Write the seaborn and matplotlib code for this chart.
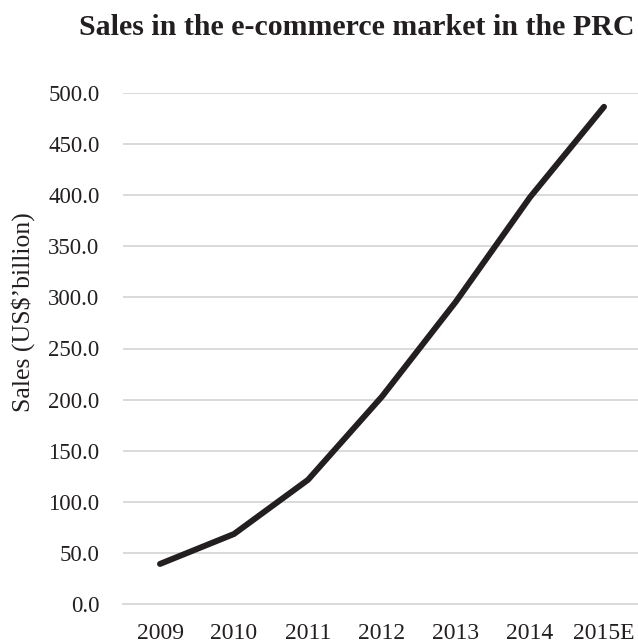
import pandas as pd
import numpy as np
import matplotlib
matplotlib.use("Agg")
import matplotlib.pyplot as plt
import seaborn as sns

# data
years = ["2009", "2010", "2011", "2012", "2013", "2014", "2015E"]
sales = [39.2, 68.5, 121.5, 203.0, 296.0, 398.0, 486.5]
yticks = [0, 50, 100, 150, 200, 250, 300, 350, 400, 450, 500]

df = pd.DataFrame({"year": years, "sales": sales})

sns.set_style("white")
plt.rcParams["font.family"] = ["Liberation Serif", "DejaVu Serif"]

fig = plt.figure(figsize=(6.38, 6.43), dpi=100)
ax = fig.add_axes([123 / 638, 39 / 643, 518 / 638, 511 / 643])

x = np.arange(len(years))
sns.lineplot(x=x, y=df["sales"], ax=ax, color="#231f20", linewidth=4.3,
             solid_capstyle="round", solid_joinstyle="miter")

ax.set_xlim(-0.5, len(years) - 0.5)
ax.set_ylim(0, 500)
ax.set_yticks(yticks)
ax.set_yticklabels([f"{v:.1f}" for v in yticks])
ax.set_xticks(x)
ax.set_xticklabels(years)
ax.set_xticks(np.arange(-0.5, len(years)), minor=True)

ax.grid(axis="y", color="#d9d9d9", linewidth=1.4)
ax.set_axisbelow(True)
for side in ["top", "right", "left"]:
    ax.spines[side].set_visible(False)
ax.spines["bottom"].set_color("#d9d9d9")
ax.spines["bottom"].set_linewidth(1.4)

ax.tick_params(axis="y", length=0, pad=17, labelsize=16.5, colors="#231f20")
ax.tick_params(axis="x", which="major", length=0, pad=13.5, labelsize=17, colors="#231f20")
ax.tick_params(axis="x", which="minor", length=7, width=1.4, color="#d9d9d9")

ax.set_xlabel("")
ax.set_ylabel("")
fig.text(23 / 638, 1 - 312 / 643, "Sales (US$\u2019billion)", rotation=90,
         ha="center", va="center", fontsize=18.5, color="#231f20")
fig.text(357 / 638, 1 - 35 / 643, "Sales in the e-commerce market in the PRC",
         ha="center", va="baseline", fontsize=21.5, fontweight="bold", color="#231f20")

fig.savefig("out.png", dpi=100)
